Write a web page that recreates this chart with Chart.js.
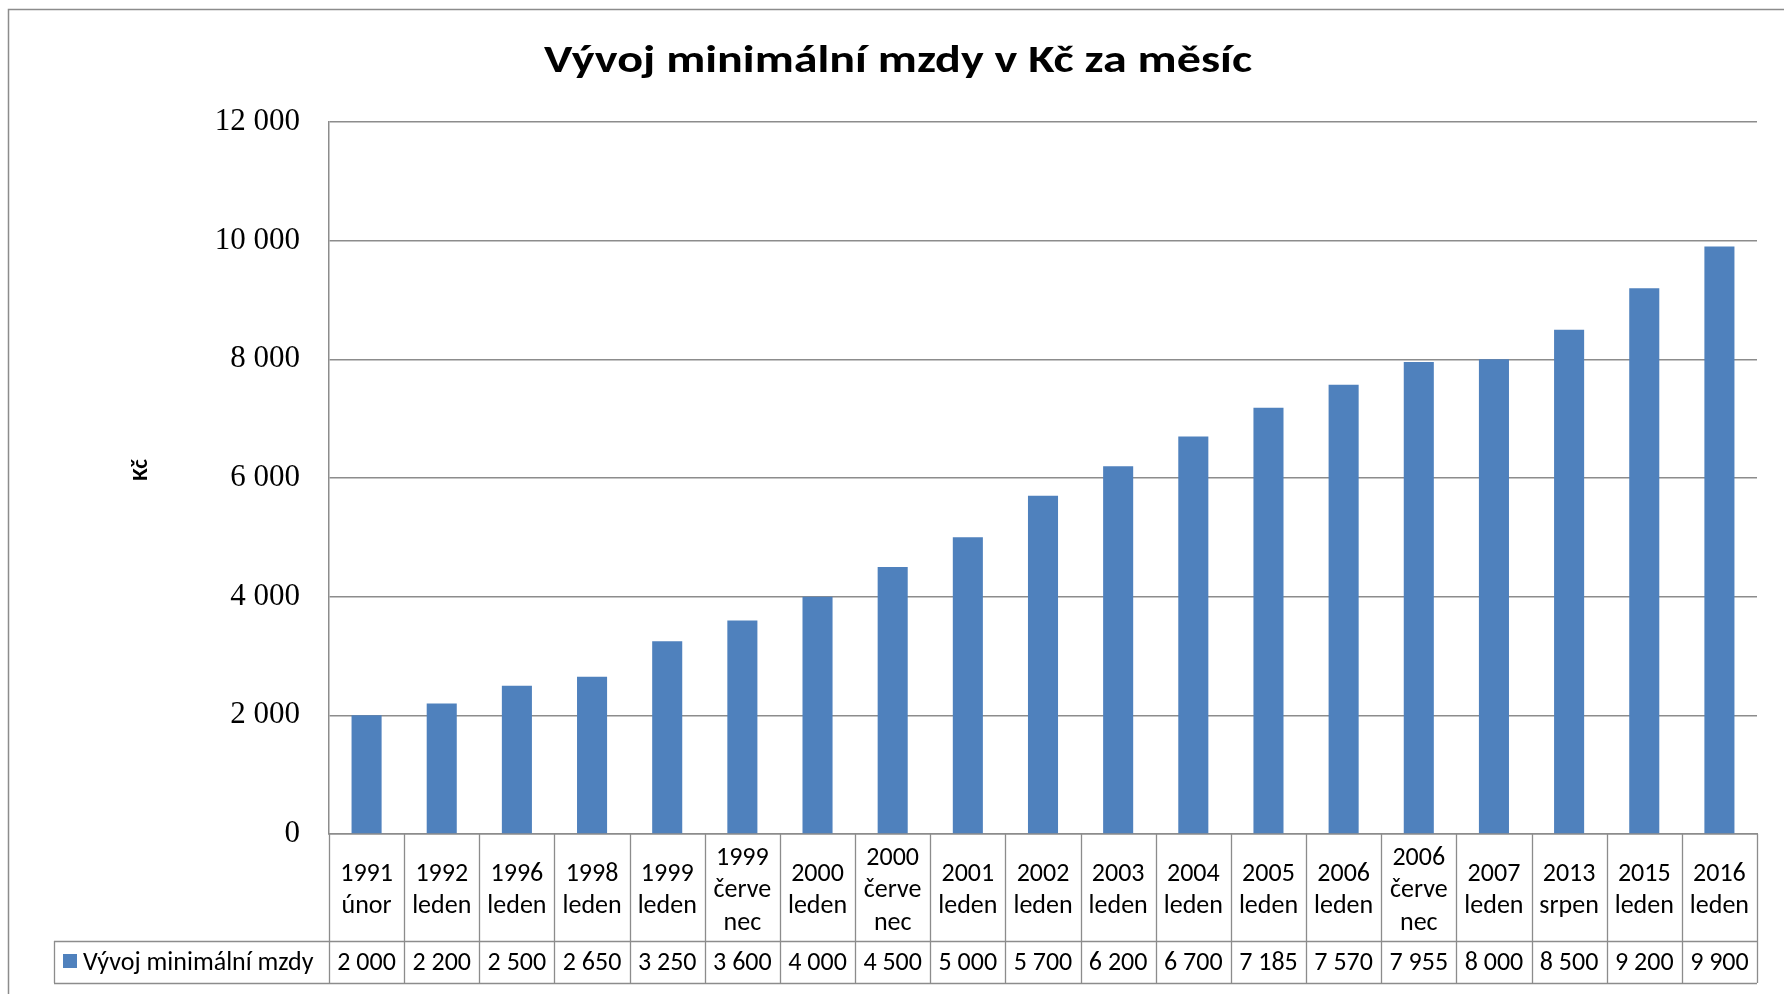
<!DOCTYPE html>
<html>
<head>
<meta charset="utf-8">
<title>Vývoj minimální mzdy</title>
<script src="https://cdn.jsdelivr.net/npm/chart.js@4.4.0/dist/chart.umd.min.js"></script>
<style>
  html, body { margin: 0; padding: 0; background: #fff; }
  canvas { display: block; }
</style>
</head>
<body>
<canvas id="chart" width="1784" height="994"></canvas>
<script>
/* Minimum wage chart with Excel-style data table under the axis */

const CATEGORIES = [
  ["1991", "únor"], ["1992", "leden"], ["1996", "leden"], ["1998", "leden"],
  ["1999", "leden"], ["1999", "červe", "nec"], ["2000", "leden"], ["2000", "červe", "nec"],
  ["2001", "leden"], ["2002", "leden"], ["2003", "leden"], ["2004", "leden"],
  ["2005", "leden"], ["2006", "leden"], ["2006", "červe", "nec"], ["2007", "leden"],
  ["2013", "srpen"], ["2015", "leden"], ["2016", "leden"],
];
const WAGES = [2000, 2200, 2500, 2650, 3250, 3600, 4000, 4500, 5000, 5700, 6200, 6700, 7185, 7570, 7955, 8000, 8500, 9200, 9900];
const SERIES_NAME = "Vývoj minimální mzdy";
const TITLE = "Vývoj minimální mzdy v Kč za měsíc";
const Y_TITLE = "Kč";
const Y_MIN = 0, Y_MAX = 12000, Y_STEP = 2000;

const GRID = "#8c8c8c";
const BAR = "#4f81bd";
const SANS = "Calibri, Carlito, Lato, sans-serif";
const SERIF = "'Times New Roman', 'Liberation Serif', serif";

const fmt = (v) => String(v).replace(/\B(?=(\d{3})+(?!\d))/g, " ");

// outer frame, title (drawn wide like the original) and the "Kč" axis label
const frame = {
  id: "frame",
  beforeDraw(chart) {
    const c = chart.ctx;
    c.save();
    c.fillStyle = "#fff";
    c.fillRect(0, 0, chart.width, chart.height);
    c.strokeStyle = GRID;
    c.lineWidth = 1.5;
    c.beginPath();
    c.moveTo(8.5, chart.height);
    c.lineTo(8.5, 9.5);
    c.lineTo(chart.width, 9.5);
    c.stroke();

    c.fillStyle = "#000";
    c.textAlign = "center";
    c.font = "bold 38px " + SANS;
    const w = c.measureText(TITLE).width;
    c.save();
    c.translate(898, 72);
    c.scale(708 / w, 1);
    c.textBaseline = "alphabetic";
    c.fillText(TITLE, 0, 0);
    c.restore();

    c.translate(141, 470);
    c.rotate(-Math.PI / 2);
    c.font = "bold 23px " + SANS;
    c.textBaseline = "middle";
    c.fillText(Y_TITLE, 0, 0);
    c.restore();
  },
};

// data table: category row, value row, legend cell
const dataTable = {
  id: "dataTable",
  afterDraw(chart) {
    const c = chart.ctx, xs = chart.scales.x, a = chart.chartArea;
    const n = CATEGORIES.length;
    const cw = (a.right - a.left) / n;
    const top = a.bottom, mid = 941, bot = 983, legLeft = 54;

    c.save();
    c.strokeStyle = GRID;
    c.lineWidth = 1.3;
    c.beginPath();
    for (let i = 0; i <= n; i++) {
      const x = Math.round(xs.getPixelForValue(Math.min(i, n - 1)) + (i < n ? -cw / 2 : cw / 2)) + 0.5;
      c.moveTo(x, top);
      c.lineTo(x, bot);
    }
    c.moveTo(legLeft, mid + 0.5); c.lineTo(a.right, mid + 0.5);
    c.moveTo(legLeft, bot + 0.5); c.lineTo(a.right, bot + 0.5);
    c.moveTo(legLeft + 0.5, mid); c.lineTo(legLeft + 0.5, bot);
    c.stroke();

    c.fillStyle = "#000";
    c.font = "26px " + SANS;
    c.textAlign = "center";
    c.textBaseline = "middle";
    const cy = (top + mid) / 2 + 3, vy = (mid + bot) / 2 + 1, lh = 32.5;
    CATEGORIES.forEach((lines, i) => {
      const cx = xs.getPixelForValue(i);
      const y0 = cy - ((lines.length - 1) * lh) / 2;
      lines.forEach((t, k) => c.fillText(t, cx, y0 + k * lh));
      c.fillText(fmt(WAGES[i]), cx, vy);
    });

    c.fillStyle = BAR;
    c.fillRect(63, 954, 14, 14);
    c.fillStyle = "#000";
    c.textAlign = "left";
    c.fillText(SERIES_NAME, 83, vy);
    c.restore();
  },
};

new Chart(document.getElementById("chart"), {
  type: "bar",
  data: {
    labels: CATEGORIES,
    datasets: [{
      label: SERIES_NAME,
      data: WAGES,
      backgroundColor: BAR,
      borderWidth: 0,
      barPercentage: 0.4,
      categoryPercentage: 1,
    }],
  },
  options: {
    responsive: false,
    animation: false,
    devicePixelRatio: 1,
    layout: { padding: { top: 122, right: 27, left: 0, bottom: 0 } },
    plugins: { legend: { display: false }, tooltip: { enabled: false }, title: { display: false } },
    scales: {
      x: {
        grid: { display: false },
        ticks: { display: false },
        border: { color: GRID, width: 1.5 },
        afterFit: (s) => { s.height = 160; },
      },
      y: {
        min: Y_MIN,
        max: Y_MAX,
        ticks: { stepSize: Y_STEP, padding: 29, color: "#000", font: { family: SERIF, size: 31 }, callback: fmt },
        grid: { color: GRID, lineWidth: 1.5, drawTicks: false },
        border: { color: GRID, width: 1.5 },
        afterFit: (s) => { s.width = 329; },
      },
    },
  },
  plugins: [frame, dataTable],
});
</script>
</body>
</html>
